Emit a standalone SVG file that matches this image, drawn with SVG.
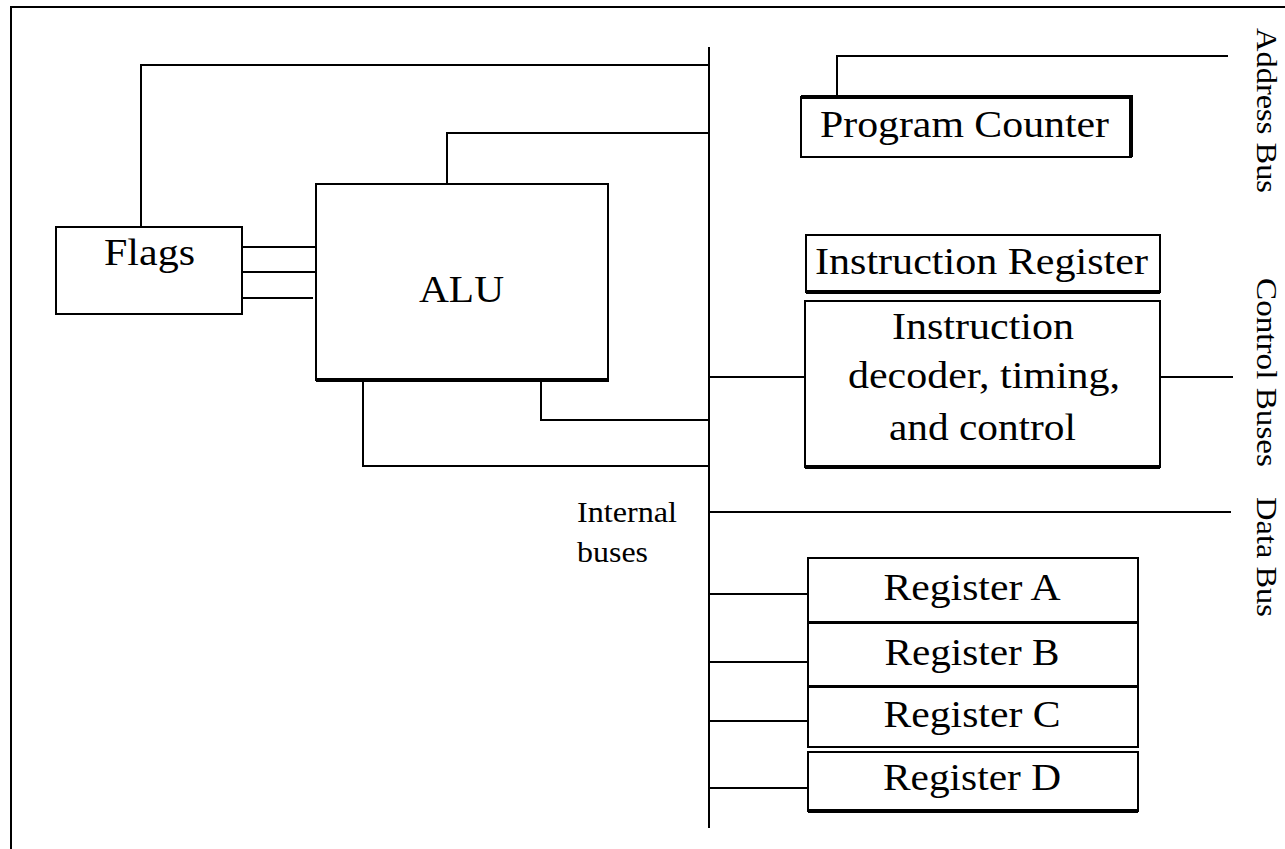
<svg xmlns="http://www.w3.org/2000/svg" width="1285" height="849" viewBox="0 0 1285 849">
<style>
.ln{stroke:#000;stroke-width:2;fill:none}
.box{stroke:#000;stroke-width:2;fill:#fff}
.thk{stroke:#000;stroke-width:4;fill:none}
.t{font-family:"Liberation Serif","Times New Roman",serif;font-size:37px;fill:#000}
.s{font-family:"Liberation Serif","Times New Roman",serif;font-size:29px;fill:#000}
.v{font-family:"Liberation Serif","Times New Roman",serif;font-size:29px;fill:#000}
</style>
<rect width="1285" height="849" fill="#fff"/>
<g id="frame">
<path class="ln" d="M11,849 V7 H1285"/>
</g>
<g id="connectors">
<path class="ln" d="M709,47 V828"/>
<path class="ln" d="M141,226 V65 H709"/>
<path class="ln" d="M447,184 V133 H709"/>
<path class="ln" d="M242,247 H316 M242,272 H316 M242,298 H313"/>
<path class="ln" d="M363,381 V466 H709"/>
<path class="ln" d="M541,381 V420 H709"/>
<path class="ln" d="M709,377 H805"/>
<path class="ln" d="M1160,377 H1233"/>
<path class="ln" d="M709,512 H1231"/>
<path class="ln" d="M837,96 V56 H1228"/>
<path class="ln" d="M709,594 H808 M709,662 H808 M709,721 H808 M709,788 H808"/>
</g>
<g id="flags">
<rect class="box" x="56" y="227" width="186" height="87"/>
<text class="t" x="149.5" y="265" text-anchor="middle" textLength="91" lengthAdjust="spacingAndGlyphs">Flags</text>
</g>
<g id="alu">
<rect class="box" x="316" y="184" width="292" height="196"/>
<path class="thk" d="M316,380 H609"/>
<text class="t" x="461.5" y="302" text-anchor="middle" textLength="85" lengthAdjust="spacingAndGlyphs">ALU</text>
</g>
<g id="program-counter">
<rect class="box" x="801" y="97" width="330" height="60"/>
<path class="thk" d="M801,97 H1131 V157"/>
<text class="t" x="820" y="137" textLength="289" lengthAdjust="spacingAndGlyphs">Program Counter</text>
</g>
<g id="instruction-register">
<rect class="box" x="806" y="235" width="354" height="57"/>
<path class="thk" d="M806,292 H1160"/>
<text class="t" x="815" y="274" textLength="333" lengthAdjust="spacingAndGlyphs">Instruction Register</text>
</g>
<g id="decoder">
<rect class="box" x="805" y="301" width="355" height="166"/>
<path class="thk" d="M805,467 H1160"/>
<text class="t" x="892" y="339" textLength="182" lengthAdjust="spacingAndGlyphs">Instruction</text>
<text class="t" x="848" y="388" textLength="272" lengthAdjust="spacingAndGlyphs">decoder, timing,</text>
<text class="t" x="889" y="440" textLength="187" lengthAdjust="spacingAndGlyphs">and control</text>
</g>
<g id="register-a">
<rect class="box" x="808" y="558" width="330" height="65"/>
<path class="thk" d="M808,623 H1138"/>
<text class="t" x="972" y="600" text-anchor="middle" textLength="177" lengthAdjust="spacingAndGlyphs">Register A</text>
</g>
<g id="register-b">
<rect class="box" x="808" y="623" width="330" height="64"/>
<path class="thk" d="M808,687 H1138"/>
<text class="t" x="972" y="665" text-anchor="middle" textLength="175" lengthAdjust="spacingAndGlyphs">Register B</text>
</g>
<g id="register-c">
<rect class="box" x="808" y="687" width="330" height="60"/>
<text class="t" x="972" y="727" text-anchor="middle" textLength="177" lengthAdjust="spacingAndGlyphs">Register C</text>
</g>
<g id="register-d">
<rect class="box" x="808" y="752" width="330" height="59"/>
<path class="thk" d="M808,811 H1138"/>
<text class="t" x="972" y="790" text-anchor="middle" textLength="178" lengthAdjust="spacingAndGlyphs">Register D</text>
</g>
<g id="labels">
<text class="s" x="577" y="522" textLength="100" lengthAdjust="spacingAndGlyphs">Internal</text>
<text class="s" x="577" y="562" textLength="71" lengthAdjust="spacingAndGlyphs">buses</text>
<text class="v" transform="translate(1257,28) rotate(90)" textLength="165" lengthAdjust="spacingAndGlyphs">Address Bus</text>
<text class="v" transform="translate(1257,278) rotate(90)" textLength="189" lengthAdjust="spacingAndGlyphs">Control Buses</text>
<text class="v" transform="translate(1257,497) rotate(90)" textLength="120" lengthAdjust="spacingAndGlyphs">Data Bus</text>
</g>
</svg>
